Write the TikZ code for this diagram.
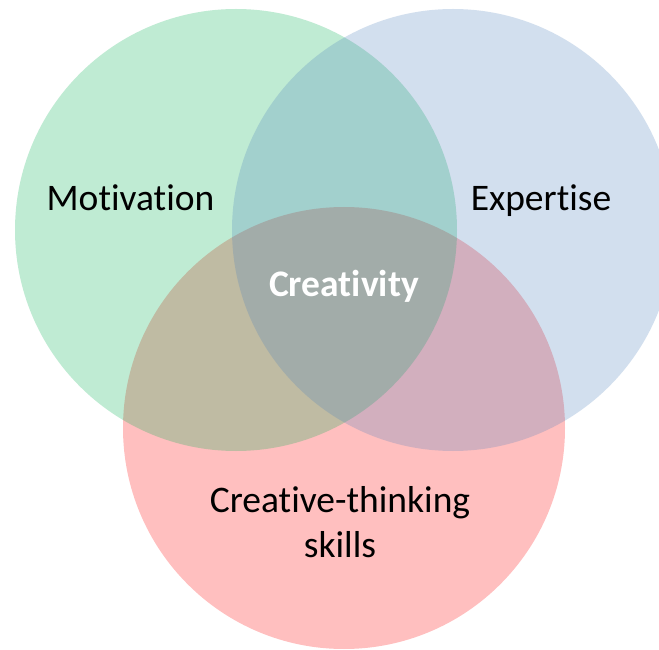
\documentclass[tikz,border=0pt]{standalone}
\usepackage{fontspec}
\setmainfont{Carlito}[Ligatures=NoCommon, Contextuals=NoAlternate]
\definecolor{motgreen}{HTML}{00B050}
\definecolor{expblue}{HTML}{4F81BD}
\definecolor{skillred}{HTML}{FF0000}
\tikzset{
  setcircle/.style={circle, draw=none, fill=#1, fill opacity=0.25, inner sep=0pt, minimum size=442pt},
  lbl/.style={font=\fontsize{37.5}{45}\selectfont, text=black, align=center}
}
\begin{document}
\begin{tikzpicture}[x=1pt,y=1pt]
            \clip (0,0) rectangle (659,649);
            \fill[white] (0,0) rectangle (659,649);

            % the three sets
            \node[setcircle=skillred] (skills) at (344,221) {};
            \node[setcircle=motgreen] (motivation) at (236,419) {};
            \node[setcircle=expblue] (expertise) at (453,419) {};

            % labels
            \node[lbl, anchor=base] (motlabel) at (130.5,438) {Motivation};
            \node[lbl, anchor=base] (explabel) at (541,438) {Expertise};
            \node[lbl, anchor=base, text=white, font=\fontsize{37.5}{45}\selectfont\bfseries] (crealabel) at (344,352) {Creativity};
            \node[lbl] (skilllabel) at (340,127) {Creative-thinking\\skills};
        \end{tikzpicture}
\end{document}
